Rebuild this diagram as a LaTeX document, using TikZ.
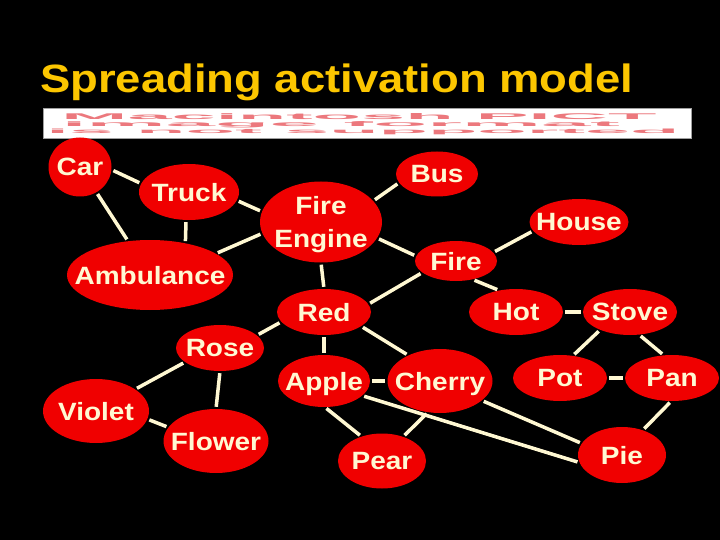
\documentclass[tikz,border=0pt]{standalone}
\usepackage{fontspec}
\setmainfont{Liberation Sans}
\newfontfamily\nodefont[FakeStretch=1.12]{Liberation Sans}
\newfontfamily\titlefont[FakeStretch=1.15]{Liberation Sans}
\usetikzlibrary{shapes.geometric}
\definecolor{nodered}{RGB}{240,0,0}
\definecolor{cream}{RGB}{255,248,210}
\definecolor{titleyellow}{RGB}{252,198,0}
\definecolor{pictred}{RGB}{236,120,125}
\definecolor{framegray}{RGB}{160,160,160}
\tikzset{
  ell/.style={ellipse, fill=nodered, inner xsep=-60pt, inner ysep=-40pt,
    text=cream, font=\nodefont\bfseries\fontsize{25}{33}\selectfont,
    text depth=0pt, align=center},
  conn/.style={draw=cream, line width=3.5pt, shorten <=2pt, shorten >=2pt},
  pict/.style={inner sep=0pt, text=pictred, font=\bfseries}
}
\begin{document}
\begin{tikzpicture}[x=1pt,y=-1pt]
\fill[black] (0,0) rectangle (720,540);
\useasboundingbox (0,0) rectangle (720,540);

% title
\node[anchor=base west, inner sep=0pt, text=titleyellow,
      font=\titlefont\bfseries\fontsize{39.5}{40}\selectfont] (title) at (40,93) {Spreading activation model};

% placeholder banner
\draw[fill=white, draw=framegray, line width=0.8pt] (43,108) rectangle (691,138);
\node[pict, anchor=base] (b1) at (359,119.5) {\resizebox{595pt}{6pt}{Macintosh PICT}};
\node[pict, anchor=base] (b2) at (341,126.5) {\resizebox{558pt}{5pt}{image format}};
\node[pict, anchor=base] (b3) at (363,133.5) {\resizebox{633pt}{4.5pt}{is not supported}};

% nodes
\node[ell, minimum width=63pt,  minimum height=59pt] (car)    at (80,167)  {Car};
\node[ell, minimum width=100pt, minimum height=56pt] (truck)  at (189,192) {Truck};
\node[ell, minimum width=122pt, minimum height=81pt] (fe)     at (321,222) {Fire\\Engine};
\node[ell, minimum width=166pt, minimum height=70pt] (amb)    at (150,275) {Ambulance};
\node[ell, minimum width=82pt,  minimum height=45pt] (bus)    at (437,174) {Bus};
\node[ell, minimum width=99pt,  minimum height=46pt] (house)  at (579,222) {House};
\node[ell, minimum width=82pt,  minimum height=40pt] (fire)   at (456,261) {Fire};
\node[ell, minimum width=94pt,  minimum height=46pt] (red)    at (324,312) {Red};
\node[ell, minimum width=94pt,  minimum height=46pt] (hot)    at (516,312) {Hot};
\node[ell, minimum width=94pt,  minimum height=46pt] (stove)  at (630,312) {Stove};
\node[ell, minimum width=88pt,  minimum height=46pt] (rose)   at (220,348) {Rose};
\node[ell, minimum width=106pt, minimum height=64pt] (violet) at (96,411)  {Violet};
\node[ell, minimum width=105pt, minimum height=64pt] (flower) at (216,441) {Flower};
\node[ell, minimum width=92pt,  minimum height=52pt] (apple)  at (324,381) {Apple};
\node[ell, minimum width=105pt, minimum height=64pt] (cherry) at (440,381) {Cherry};
\node[ell, minimum width=88pt,  minimum height=55pt] (pear)   at (382,461) {Pear};
\node[ell, minimum width=94pt,  minimum height=46pt] (pot)    at (560,378) {Pot};
\node[ell, minimum width=94pt,  minimum height=46pt] (pan)    at (672,378) {Pan};
\node[ell, minimum width=88pt,  minimum height=56pt] (pie)    at (622,455) {Pie};

% connectors
\draw[conn] (car.-5) -- (truck.170);
\draw[conn] (car) -- (amb);
\draw[conn] (truck.264) -- (amb.42);
\draw[conn] (truck.-10) -- (fe.170);
\draw[conn] (amb.18) -- (fe.191);
\draw[conn] (fe.south) -- (red.north);
\draw[conn] (fe.22) -- (bus.193);
\draw[conn] (fe.-16) -- (fire.173);
\draw[conn] (fire.13) -- (house.191);
\draw[conn] (fire.199) -- (red.10);
\draw[conn] (fire.-48) -- (hot.128);
\draw[conn] (hot) -- (stove);
\draw[conn] (stove.211) -- (pot.60);
\draw[conn] (stove.-68) -- (pan.110);
\draw[conn] (pot) -- (pan);
\draw[conn] (pan.-92) -- (pie.50);
\draw[conn] (cherry.-25) -- (pie.164);
\draw[conn] (apple.-21) -- (pie.190);
\draw[conn] (red.193) -- (rose.19);
\draw[conn] (red.south) -- (apple.north);
\draw[conn] (red.-21) -- (cherry.141);
\draw[conn] (rose.202) -- (violet.29);
\draw[conn] (rose.south) -- (flower.north);
\draw[conn] (violet.-9) -- (flower.164);
\draw[conn] (apple) -- (cherry);
\draw[conn] (apple.-88) -- (pear.130);
\draw[conn] (cherry.-111) -- (pear.49);
\end{tikzpicture}
\end{document}
